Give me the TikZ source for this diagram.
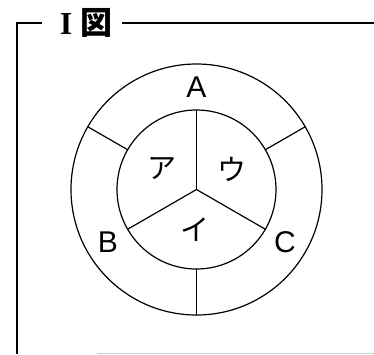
\documentclass[tikz,border=0pt]{standalone}
\usepackage{fontspec}
\newfontfamily\jpfont{Noto Sans CJK JP}
\newfontfamily\latinsans{Liberation Sans}
\newfontfamily\latinserif{Liberation Serif}

\begin{document}
\begin{tikzpicture}[
  x=1pt, y=-1pt,
  ring/.style={draw, circle, line width=1.2pt, inner sep=0pt, outer sep=0pt},
  divider/.style={line width=1.2pt},
  frame/.style={line width=2.2pt},
  region/.style={font=\fontsize{30}{30}\selectfont\latinsans},
  sector/.style={font=\fontsize{29}{29}\selectfont\jpfont},
]
\useasboundingbox (0,0) rectangle (374,354);

% rings
\node[ring, minimum size=251pt] (outer) at (196.5,189.5) {};
\node[ring, minimum size=159pt] (inner) at (196.5,189.5) {};

% dividers
\draw[divider] (inner.center) -- (inner.90);
\draw[divider] (inner.center) -- (inner.210);
\draw[divider] (inner.center) -- (inner.330);
\draw[divider] (inner.150) -- (outer.150);
\draw[divider] (inner.30)  -- (outer.30);
\draw[divider] (inner.270) -- (outer.270);

% labels
\node[region] (A) at (196.5,87) {A};
\node[region] (B) at (108,242) {B};
\node[region] (C) at (285,242) {C};
\node[sector] (a) at (161.5,169) {ア};
\node[sector] (u) at (231.5,169) {ウ};
\node[sector] (i) at (195,230) {イ};

% frame
\node[font=\fontsize{32}{32}\selectfont\bfseries] (title) at (86,23) {\latinserif I\hspace{8pt}\jpfont 図};
\draw[frame] (42,23) -| (17,354);
\draw[frame] (122,23) -- (374,23);
\draw[gray!40, line width=0.8pt] (97,353) -- (374,353);

\end{tikzpicture}
\end{document}
